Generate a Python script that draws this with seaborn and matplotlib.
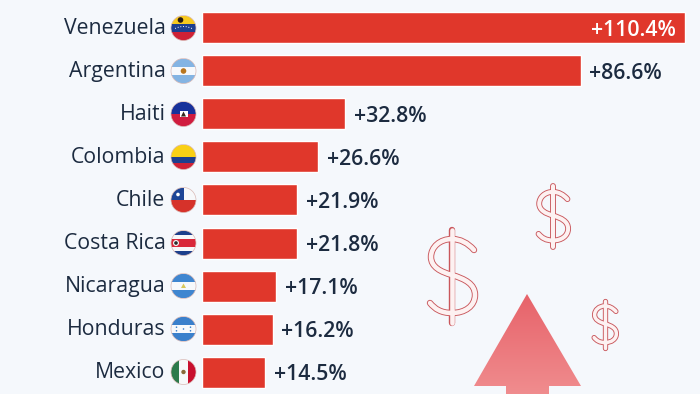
import numpy as np
import pandas as pd
import seaborn as sns
import matplotlib
matplotlib.use("Agg")
import matplotlib.pyplot as plt
from matplotlib.patches import Circle, Rectangle, Polygon, PathPatch
from matplotlib.path import Path
from matplotlib.transforms import ScaledTranslation
from matplotlib.colors import LinearSegmentedColormap

countries = ["Venezuela", "Argentina", "Haiti", "Colombia", "Chile",
             "Costa Rica", "Nicaragua", "Honduras", "Mexico"]
changes = [110.4, 86.6, 32.8, 26.6, 21.9, 21.8, 17.1, 16.2, 14.5]

BG = "#f5f8fc"
RED = "#e0372b"
INK = "#1c2b40"
W, H = 700, 394
LEFT = 201.6

sns.set_theme(style="white")
plt.rcParams["font.family"] = ["Open Sans", "DejaVu Sans"]

fig = plt.figure(figsize=(7, 3.94), dpi=100, facecolor=BG)
ax = fig.add_axes([LEFT / W, 0, (W - LEFT) / W, 1], facecolor="none")
df = pd.DataFrame({"country": countries, "change": changes})
sns.barplot(data=df, y="country", x="change", color=RED, saturation=1,
            width=31 / 43, ax=ax)
px_per_unit = 4.378
ax.set_xlim(0, (W - LEFT) / px_per_unit)
ax.set_ylim((H - 28) / 43, -28 / 43)
ax.set_xlabel("")
ax.set_ylabel("")
ax.set_xticks([])
ax.tick_params(axis="y", length=0, pad=26.0, labelsize=15.3, labelcolor=INK)
sns.despine(ax=ax, left=True, bottom=True)
shift = ScaledTranslation(0, 2 / 100, fig.dpi_scale_trans)
for lab in ax.get_yticklabels():
    lab.set_transform(lab.get_transform() + shift)

for i, v in enumerate(changes):
    txt = f"+{v:.1f}%"
    if i == 0:
        ax.annotate(txt, (v, i), xytext=(-6.5, -1.6), textcoords="offset points",
                    ha="right", va="center", color="white", fontsize=15.3, fontweight=600)
    else:
        ax.annotate(txt, (v, i), xytext=(6.2, -1.6), textcoords="offset points",
                    ha="left", va="center", color=INK, fontsize=15.3, fontweight=600)

# overlay in pixel coordinates for pictorial decoration
ov = fig.add_axes([0, 0, 1, 1], facecolor="none")
ov.set_xlim(0, W)
ov.set_ylim(H, 0)
ov.axis("off")

FX, R = 183.5, 12.5


def flag(cy, draw):
    clip = Circle((FX, cy), R, transform=ov.transData)
    arts = draw(FX, cy)
    for a in arts:
        a.set_clip_path(clip)
    ov.add_patch(Circle((FX, cy), R, fill=False, ec="#d9b9b5", lw=0.5, zorder=5))


def hbands(cy, cols, fracs=None):
    n = len(cols)
    fracs = fracs or [1 / n] * n
    out, y = [], cy - R
    for c, f in zip(cols, fracs):
        out.append(ov.add_patch(Rectangle((FX - R, y), 2 * R, 2 * R * f, fc=c, lw=0)))
        y += 2 * R * f
    return out


def dot(x, y, r, c):
    return ov.add_patch(Circle((x, y), r, fc=c, lw=0, zorder=3))


def ven(x, y):
    a = hbands(y, ["#f7c91e", "#1d3f8f", "#cf2136"])
    a.append(dot(x - 3, y - 8, 2.8, "#2a1c12"))
    for t in np.linspace(-1, 1, 7):
        a.append(dot(x + t * 8, y - 1.5 + 1.8 * t * t, 0.55, "white"))
    return a


def arg(x, y):
    a = hbands(y, ["#84b4e3", "#f7f9fc", "#84b4e3"])
    a.append(dot(x, y, 2.8, "#b8761f"))
    return a


def hai(x, y):
    a = hbands(y, ["#17319b", "#d01c3f"])
    a.append(ov.add_patch(Rectangle((x - 4, y - 3.5), 8, 6.5, fc="white", lw=0, zorder=3)))
    a.append(ov.add_patch(Polygon([(x - 2.5, y + 2.5), (x, y - 2.5), (x + 2.5, y + 2.5)],
                                  fc="#33291f", lw=0, zorder=4)))
    return a


def col(x, y):
    return hbands(y, ["#f9d016", "#1d3f8f", "#cf2136"], [0.5, 0.25, 0.25])


def chi(x, y):
    a = hbands(y, ["#f7f8fa", "#d6322a"])
    a.append(ov.add_patch(Rectangle((x - R, y - R), R, R, fc="#1d4596", lw=0, zorder=3)))
    a.append(dot(x - 5.5, y - 5.5, 1.8, "white"))
    return a


def cri(x, y):
    a = hbands(y, ["#1c3f8c", "#f7f8fa", "#d9283a", "#f7f8fa", "#1c3f8c"],
               [1 / 6, 1 / 6, 1 / 3, 1 / 6, 1 / 6])
    a.append(dot(x - 7.5, y, 3, "#f4f4f4"))
    a.append(dot(x - 7.5, y, 1.8, "#2b2b2b"))
    return a


def nic(x, y):
    a = hbands(y, ["#3f86d0", "#f7f9fc", "#3f86d0"])
    a.append(ov.add_patch(Polygon([(x - 2.5, y + 2), (x, y - 2.5), (x + 2.5, y + 2)],
                                  fc="#d9c85a", lw=0, zorder=3)))
    return a


def hon(x, y):
    a = hbands(y, ["#3a80cc", "#f7f9fc", "#3a80cc"])
    for dx, dy in [(-7, -1.8), (-7, 1.8), (0, 0), (7, -1.8), (7, 1.8)]:
        a.append(dot(x + dx, y + dy, 0.8, "#3a80cc"))
    return a


def mex(x, y):
    a = [ov.add_patch(Rectangle((x - R, y - R), 2 * R / 3, 2 * R, fc="#2c7a4b", lw=0)),
         ov.add_patch(Rectangle((x - R / 3, y - R), 2 * R / 3, 2 * R, fc="#f7f8fa", lw=0)),
         ov.add_patch(Rectangle((x + R / 3, y - R), 2 * R / 3, 2 * R, fc="#c8102e", lw=0))]
    a.append(dot(x, y, 2.2, "#8a6a3a"))
    return a


for i, fn in enumerate([ven, arg, hai, col, chi, cri, nic, hon, mex]):
    flag(28 + 43 * i, fn)

# gradient arrow
verts = [(527, 294), (581, 386), (549, 386), (549, 394), (506, 394), (506, 386), (474, 386)]
arrow = Polygon(verts, closed=True, fc="none", ec="none", transform=ov.transData)
ov.add_patch(arrow)
cmap = LinearSegmentedColormap.from_list("g", ["#e7636a", "#f08c8e"])
im = ov.imshow(np.linspace(0, 1, 100)[:, None], extent=(470, 585, 394, 294), cmap=cmap,
               aspect="auto", zorder=2)
im.set_clip_path(arrow)
ov.set_xlim(0, W)
ov.set_ylim(H, 0)

# dollar icons: an S curve and a bar, stroked dark then pale to leave an outline
S = np.array([(474, 250), (468, 243), (460, 239), (452, 239), (440, 239), (431, 247), (431, 257),
              (431, 267), (441, 272), (452, 275), (465, 279), (475, 284), (475, 295),
              (475, 306), (465, 313), (452, 313), (441, 313), (435, 309), (430, 303)], float)
S = (S - np.array([452, 276.5])) / 99
S_codes = [Path.MOVETO] + [Path.CURVE4] * (len(S) - 1)
BAR = np.array([(452, 230), (452, 323)], float)
BAR = (BAR - np.array([452, 276.5])) / 99
BAR_codes = [Path.MOVETO, Path.LINETO]

for cx, cy, h, lw_out in [(452, 276.5, 99, 4.6), (553, 216.5, 65, 4.2), (605, 324.5, 49, 3.8)]:
    for lw, c, z in [(lw_out, "#c9575c", 3), (lw_out - 1.3, "#fdf1f1", 3.1)]:
        for pts, codes in [(S, S_codes), (BAR, BAR_codes)]:
            ov.add_patch(PathPatch(Path(pts * h + [cx, cy], codes), fill=False, ec=c, lw=lw,
                                   capstyle="round", joinstyle="round", zorder=z))

fig.savefig("out.png", dpi=100, facecolor=BG)
